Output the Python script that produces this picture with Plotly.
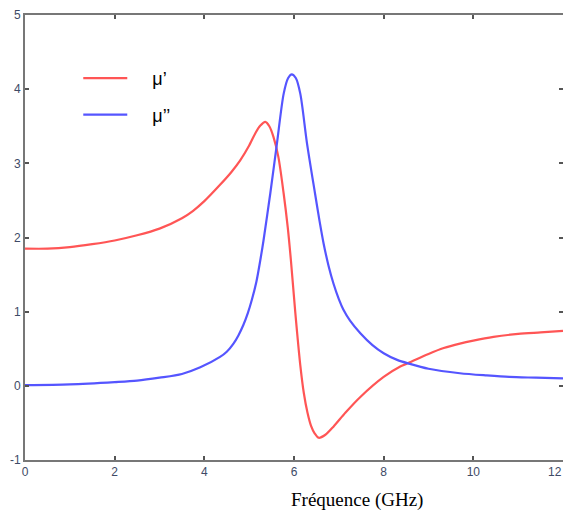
import plotly.graph_objects as go

freq_r = [0, 0.5, 1.0, 1.5, 2.0, 2.5, 3.0, 3.5, 3.75, 4.0, 4.35, 4.6, 4.8, 5.0, 5.15, 5.25, 5.36,
          5.45, 5.54, 5.65, 5.77, 5.86, 5.93, 6.03, 6.14, 6.22, 6.30, 6.38, 6.46, 6.55,
          6.7, 6.88, 7.15, 7.48, 8.0, 8.37, 8.56, 9.0, 9.34, 9.7, 10.0, 10.45, 11.0, 11.5, 12.0]
mu_r = [1.85, 1.85, 1.87, 1.91, 1.96, 2.03, 2.12, 2.26, 2.36, 2.49, 2.71, 2.88, 3.04, 3.24, 3.42, 3.51, 3.56,
        3.50, 3.36, 3.09, 2.59, 2.14, 1.70, 0.98, 0.28, -0.10, -0.36, -0.54, -0.64, -0.70,
        -0.66, -0.55, -0.36, -0.15, 0.12, 0.26, 0.31, 0.43, 0.51, 0.57, 0.61, 0.66, 0.70, 0.72, 0.74]

# μ'' (imaginary part)
freq_i = [0, 1.0, 2.0, 2.5, 3.0, 3.5, 3.91, 4.35, 4.5, 4.65, 4.76, 4.87, 4.97, 5.06, 5.16, 5.25, 5.32, 5.47,
          5.62, 5.77, 5.87, 5.95, 6.04, 6.14, 6.29, 6.47, 6.57, 6.66, 6.77, 6.88, 7.0, 7.10,
          7.25, 7.48, 7.75, 8.0, 8.3, 8.56, 9.0, 9.7, 10.3, 10.8, 11.4, 12.0]
mu_i = [0.01, 0.02, 0.05, 0.07, 0.11, 0.16, 0.25, 0.39, 0.46, 0.57, 0.68, 0.82, 0.98, 1.16, 1.40, 1.70, 1.96, 2.59,
        3.27, 3.94, 4.15, 4.20, 4.15, 3.94, 3.27, 2.59, 2.22, 1.92, 1.62, 1.38, 1.17, 1.03,
        0.88, 0.71, 0.55, 0.44, 0.35, 0.30, 0.23, 0.17, 0.14, 0.12, 0.11, 0.10]

NB = "\u00a0"
x_ticks = [0, 2, 4, 6, 8, 10, 12]
x_labels = ["0", "2", "4", "6", "8", "10", "12" + NB * 5]
y_ticks = [-1, 0, 1, 2, 3, 4, 5]
y_labels = ["-1", "0", "1", "2", "3", "4", "5"]

fig = go.Figure()
fig.add_trace(go.Scatter(x=freq_r, y=mu_r, mode="lines", name=NB * 4 + "μ’", legendgroup="a",
                         line=dict(color="rgb(255,85,85)", width=2.2, shape="spline", smoothing=0.8)))
fig.add_trace(go.Scatter(x=freq_i, y=mu_i, mode="lines", name=NB * 4 + "μ’’", legendgroup="b",
                         line=dict(color="rgb(85,85,255)", width=2.2, shape="spline", smoothing=0.8)))

axis_common = dict(showline=True, linecolor="#777777", linewidth=2, mirror="ticks",
                   ticks="inside", ticklen=4, tickcolor="#555555", tickwidth=1.5,
                   showgrid=False, zeroline=False, automargin=False,
                   ticklabeloverflow="allow",
                   tickfont=dict(family="Liberation Sans, Arial", size=12, color="#3e4a66"))

fig.update_xaxes(range=[0, 12], tickvals=x_ticks, ticktext=x_labels, **axis_common)
fig.update_yaxes(range=[-1, 5], tickvals=y_ticks, ticktext=y_labels, **axis_common)

fig.add_annotation(text="Fréquence (GHz)", xref="paper", yref="paper",
                   x=(425 - 25) / 538, y=-(513 - 460) / 445, showarrow=False,
                   font=dict(family="Liberation Serif, Times New Roman", size=19, color="black"))

# page body has an 8px default margin: figure is sized/offset to compensate
fig.update_layout(
    width=563, height=516,
    margin=dict(l=17, r=8, t=7, b=64),
    paper_bgcolor="white", plot_bgcolor="white",
    showlegend=True,
    legend=dict(x=0.099, y=0.899, xanchor="left", yanchor="top",
                bgcolor="rgba(0,0,0,0)", tracegroupgap=10,
                font=dict(family="Liberation Sans, Arial", size=18, color="black"),
                itemwidth=44),
)

fig.write_html("out.html")
